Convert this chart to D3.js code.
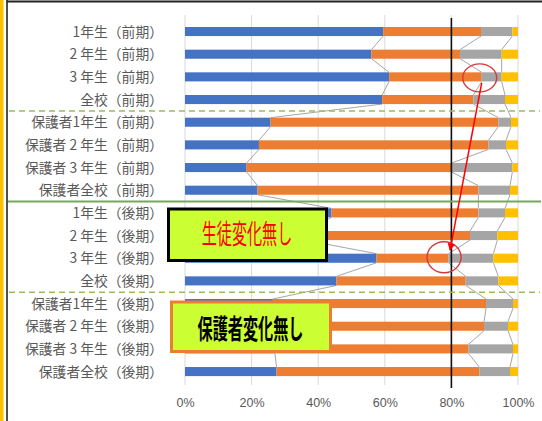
<!DOCTYPE html>
<html><head><meta charset="utf-8">
<script src="https://cdn.jsdelivr.net/npm/d3@7/dist/d3.min.js"></script>
<style>
html,body{margin:0;padding:0;background:#fff;}
svg{display:block;}
</style>
</head><body>
<svg id="chart" width="542" height="421"></svg>
<script>
// ---- data ----
const categories = [
  "1年生（前期）","2 年生（前期）","3 年生（前期）","全校（前期）",
  "保護者1年生（前期）","保護者 2 年生（前期）","保護者 3 年生（前期）","保護者全校（前期）",
  "1年生（後期）","2 年生（後期）","3 年生（後期）","全校（後期）",
  "保護者1年生（後期）","保護者 2 年生（後期）","保護者 3 年生（後期）","保護者全校（後期）"
];
const series1 = [59.5, 56.0, 61.3, 59.2, 25.7, 22.2, 18.5, 21.8, 44.0, 36.0, 57.5, 45.5, 26.4, 28.0, 27.0, 27.5];
const series2 = [29.4, 26.6, 27.8, 27.4, 68.4, 68.9, 61.6, 66.3, 44.1, 49.6, 21.6, 38.8, 64.0, 61.8, 58.1, 60.9];
const series3 = [ 9.4, 12.5,  6.0,  9.5,  3.8,  5.3, 18.2,  9.5,  8.0,  8.2, 13.5,  9.8,  8.1,  7.2, 13.4,  9.2];
const series4 = [ 1.7,  4.9,  4.9,  3.9,  2.1,  3.6,  1.7,  2.4,  3.9,  6.2,  7.4,  5.9,  1.5,  3.0,  1.5,  2.4];
const seriesKeys = ["s1","s2","s3","s4"];
const seriesColors = ["#4472c4","#ed7d31","#a5a5a5","#ffc000"];
const xTicks = [0,20,40,60,80,100];
const note1 = "生徒変化無し";
const note2 = "保護者変化無し";

// ---- build table ----
const table = categories.map((c,i)=>({cat:c, s1:series1[i], s2:series2[i], s3:series3[i], s4:series4[i]}));
const stacked = d3.stack().keys(seriesKeys)(table);

const svg = d3.select("#chart");
const x = d3.scaleLinear().domain([0,100]).range([185,518]);
const y = d3.scaleBand().domain(categories).range([20.2,382.9]).paddingInner(0.6).paddingOuter(0.3);
const bw = y.bandwidth();
const yc = c => y(c) + bw/2;

// frame
svg.append("rect").attr("x",0).attr("y",0).attr("width",3.5).attr("height",421).attr("fill","#ffc000");
svg.append("line").attr("x1",7).attr("x2",7).attr("y1",0).attr("y2",421).attr("stroke","#222").attr("stroke-width",1.6);
svg.append("line").attr("x1",7).attr("x2",542).attr("y1",1.5).attr("y2",1.5).attr("stroke","#222").attr("stroke-width",2);

// gridlines
svg.append("g").selectAll("line").data(xTicks).join("line")
  .attr("x1",d=>x(d)).attr("x2",d=>x(d)).attr("y1",15).attr("y2",385)
  .attr("stroke","#d9d9d9").attr("stroke-width",1);

// series lines (connect boundaries between consecutive bars)
const sl = svg.append("g").attr("fill","none").attr("stroke","#a6a6a6").attr("stroke-width",1);
stacked.slice(0,3).forEach(layer=>{
  for(let i=0;i<layer.length-1;i++){
    const a = layer[i], b = layer[i+1];
    sl.append("line")
      .attr("x1",x(a[1])).attr("y1",y(categories[i])+bw)
      .attr("x2",x(b[1])).attr("y2",y(categories[i+1]));
  }
});

// bars
svg.append("g").selectAll("g").data(stacked).join("g")
  .attr("fill",(d,i)=>seriesColors[i])
  .selectAll("rect").data(d=>d).join("rect")
  .attr("x",d=>x(d[0])).attr("width",d=>x(d[1])-x(d[0]))
  .attr("y",d=>y(d.data.cat)).attr("height",bw);

// category labels
svg.append("g").selectAll("text").data(categories).join("text")
  .attr("x",163).attr("y",d=>yc(d)+5)
  .attr("text-anchor","end")
  .attr("font-family","'Noto Sans CJK JP', sans-serif")
  .attr("font-size",13.8).attr("fill","#595959")
  .text(d=>d);

// x axis
const ax = svg.append("g").attr("transform","translate(0,390)")
  .call(d3.axisBottom(x).tickValues(xTicks).tickFormat(d=>d+"%").tickSize(0).tickPadding(8));
ax.select(".domain").remove();
ax.selectAll("text").attr("font-family","'Liberation Sans', Arial, sans-serif").attr("font-size",12.5).attr("fill","#595959");

// 80% reference line
svg.append("line").attr("x1",x(80)).attr("x2",x(80)).attr("y1",18).attr("y2",388)
  .attr("stroke","#111").attr("stroke-width",1.6);

// green separators
const midY = (a,b)=> (yc(categories[a])+yc(categories[b]))/2;
svg.append("line").attr("x1",9).attr("x2",540).attr("y1",midY(3,4)).attr("y2",midY(3,4))
  .attr("stroke","#9bbb59").attr("stroke-width",1.5).attr("stroke-dasharray","6,4");
svg.append("line").attr("x1",9).attr("x2",540).attr("y1",midY(11,12)).attr("y2",midY(11,12))
  .attr("stroke","#9bbb59").attr("stroke-width",1.5).attr("stroke-dasharray","6,4");
svg.append("line").attr("x1",8).attr("x2",541).attr("y1",midY(7,8)).attr("y2",midY(7,8))
  .attr("stroke","#77a85a").attr("stroke-width",2);

// annotation boxes
function noteBox(x0,y0,w,h,stroke,text,color,weight,cx,by){
  svg.append("rect").attr("x",x0).attr("y",y0).attr("width",w).attr("height",h)
    .attr("fill","#ccff33").attr("stroke",stroke).attr("stroke-width",3);
  svg.append("text").attr("transform",`translate(${cx},${by}) scale(0.56,1)`)
    .attr("text-anchor","middle")
    .attr("font-family","'Noto Sans CJK JP', sans-serif")
    .attr("font-size",27).attr("font-weight",weight).attr("fill",color).text(text);
}
noteBox(168.5,209,158,51.5,"#000",note1,"#ff0000","normal",247,244);
noteBox(171.5,302,159,49.5,"#ed7d31",note2,"#000","bold",250.5,339);

// red ellipses and arrow
const e1x = x(88.5), e1y = yc(categories[2]);
const e2x = x(77.8), e2y = yc(categories[10]);
svg.append("ellipse").attr("cx",e1x).attr("cy",e1y+1).attr("rx",17).attr("ry",14)
  .attr("fill","none").attr("stroke","#d9383a").attr("stroke-width",1.4);
svg.append("ellipse").attr("cx",e2x).attr("cy",e2y-1).attr("rx",17).attr("ry",15.5)
  .attr("fill","none").attr("stroke","#d9383a").attr("stroke-width",1.4);
const defs = svg.append("defs");
defs.append("marker").attr("id","ah").attr("viewBox","0 0 10 10").attr("refX",9).attr("refY",5)
  .attr("markerWidth",5).attr("markerHeight",5).attr("orient","auto")
  .append("path").attr("d","M0,0 L10,5 L0,10 z").attr("fill","#ff0000");
svg.append("line").attr("x1",e1x+2).attr("y1",e1y+6).attr("x2",e2x+6).attr("y2",e2y-8)
  .attr("stroke","#ff0000").attr("stroke-width",1.5).attr("marker-end","url(#ah)");
</script>
</body></html>
